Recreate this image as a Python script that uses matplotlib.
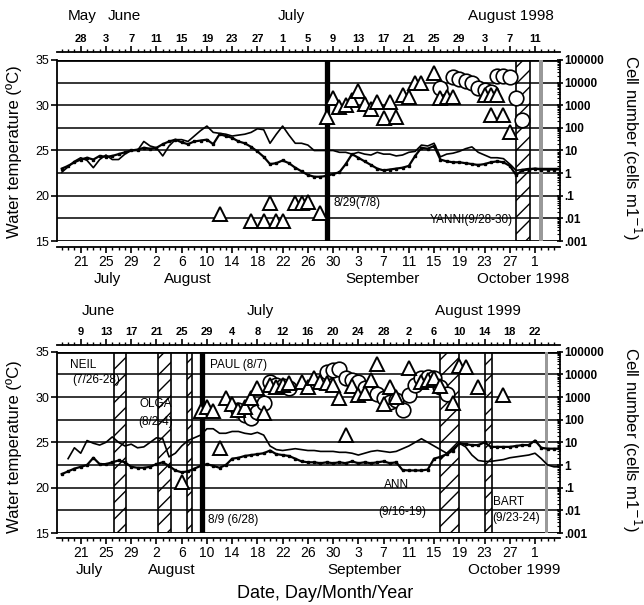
import numpy as np
import matplotlib
matplotlib.use('Agg')
import matplotlib.pyplot as plt
import matplotlib.dates as mdates
from matplotlib.ticker import FixedLocator, LogLocator, NullFormatter

plt.rcParams['font.family'] = ['Liberation Sans', 'DejaVu Sans']
plt.rcParams['hatch.linewidth'] = 1.0


def dn(year, s):
    return mdates.datestr2num(f'{year}-{s}')


def daily(year, start, n):
    return dn(year, start) + np.arange(n)


# ---------------- 1998 ----------------
t98_dot_start = '07-18'
t98_dot = [23.0, 23.3, 23.7, 24.0, 24.2, 24.0, 24.4, 24.3, 24.4, 24.6, 24.8, 25.0, 25.1, 25.3,
           25.2, 25.3, 25.7, 26.0, 26.2, 25.9, 25.7, 26.0, 26.1, 26.2, 25.7, 26.8, 26.6, 26.4,
           26.0, 25.8, 25.4, 24.9, 24.3, 23.5, 23.6, 23.9, 23.6, 23.1, 22.7, 22.3, 22.1, 22.1,
           22.2, 22.4, 22.6,
           23.5, 24.6, 24.2, 23.8, 23.4, 23.0, 22.8, 22.9, 23.0, 23.1, 23.3, 24.4, 25.3, 25.2,
           25.5, 24.0, 23.8, 23.7, 23.7, 23.6, 23.5, 23.4, 23.5, 23.7, 23.8, 23.7, 23.3, 22.3,
           22.8, 22.9,
           23.0, 22.9, 22.9, 22.9, 22.9]
t98_line_start = '07-18'
t98_line = [22.6, 23.2, 23.8, 24.2, 23.9, 23.1, 24.0, 24.5, 24.0, 24.0, 24.6, 25.0, 25.0, 26.0,
            25.5, 25.3, 24.4, 25.5, 26.2, 26.2, 26.0, 26.6, 27.2, 27.7, 27.0, 26.9, 26.8, 26.6,
            26.7, 26.8, 27.0, 27.4, 27.3, 25.8, 26.8, 27.7, 26.7, 25.8, 25.8, 25.6, 25.0, 25.0,
            25.0, 25.0, 24.8,
            24.8, 24.6, 24.8, 24.6, 24.5, 24.8, 24.6, 24.6, 24.4, 24.5, 24.8, 24.9, 25.6, 25.5,
            25.8, 24.3, 24.6, 24.7, 24.9, 25.2, 25.4, 24.8, 24.5, 24.2, 24.2, 24.1, 23.5, 22.8,
            22.9, 23.0,
            23.0, 23.0, 23.0, 23.0, 23.0]
tri98_dates = ['08-12', '08-17', '08-19', '08-20', '08-21', '08-22', '08-24', '08-25', '08-26',
               '08-28', '08-29', '08-30', '08-31', '09-01', '09-02', '09-03', '09-04', '09-05',
               '09-06', '09-07', '09-08', '09-09', '09-10', '09-11', '09-12', '09-13', '09-15',
               '09-16', '09-17', '09-18', '09-23', '09-24', '09-25', '09-24', '09-26', '09-27']
tri98_vals = [0.015, 0.008, 0.008, 0.05, 0.008, 0.008, 0.05, 0.05, 0.055,
              0.018, 300, 2100, 850, 1000, 1700, 4200, 1100, 680,
              1400, 260, 1400, 310, 2800, 2400, 9300, 9300, 26000,
              2000, 2400, 2400, 2800, 2800, 2800, 390, 390, 66]
cir98_dates = ['09-16', '09-18', '09-19', '09-20', '09-21', '09-22', '09-23', '09-24',
               '09-25', '09-26', '09-27', '09-28', '09-29']
cir98_vals = [5500, 17000, 14000, 12000, 9300, 5900, 4700, 3700,
              20000, 20000, 18000, 2000, 220]
thick98 = '08-29 01:00'
hatch98 = [('09-28', '09-30 05:00')]
gray98 = '10-01 23:00'

# ---------------- 1999 ----------------
t99_dot_start = '07-18'
t99_dot = [21.5, 21.8, 22.1, 22.3, 22.5, 23.3, 22.6, 22.6, 22.8, 23.0, 22.8, 22.3, 22.2, 22.2,
           22.3, 22.6, 22.8, 22.4, 21.9, 21.7, 21.8, 22.1, 22.4, 22.6, 22.4, 22.2, 22.5, 23.2,
           23.3, 23.5, 23.6, 23.7, 23.8, 24.1, 23.7, 23.6, 23.5, 23.2, 22.9, 22.8, 22.8, 22.7,
           22.8, 22.7, 22.8,
           22.7, 22.9, 22.7, 22.8, 22.7, 22.8, 22.9, 22.7, 22.8, 21.95, 21.9, 21.9, 21.9, 22.0,
           23.2, 23.4, 23.7, 24.1, 24.9, 24.8, 24.7, 24.7, 25.0, 24.5, 24.5, 24.5, 24.5, 24.6,
           24.7, 24.7,
           25.2, 24.4, 24.3, 24.3, 24.3]
t99_line_start = '07-19'
t99_line = [23.2, 24.4, 23.8, 25.2, 24.9, 24.7, 25.0, 25.6, 25.0, 24.6, 24.8, 24.4, 24.5,
            25.0, 25.5, 25.4, 23.4, 23.8, 24.6, 25.2, 25.5, 25.8, 26.5, 26.5, 26.0, 26.0, 26.2,
            26.2, 26.0, 25.9, 26.1, 25.8, 24.6, 24.2, 24.1, 24.2, 24.3, 24.2, 24.1, 24.1, 24.0,
            24.0, 24.0, 23.9,
            23.9, 23.8, 23.6, 23.8, 24.0, 24.1, 24.0, 23.9, 24.0, 24.3, 24.6, 25.0, 25.4, 25.0,
            24.6, 24.2, 23.8, 24.3, 24.9, 24.5, 23.6, 23.0, 22.9, 22.9, 23.0, 23.1, 23.3, 23.4,
            23.5, 23.6,
            23.8, 23.2, 22.5, 22.3, 22.3]
tri99_dates = ['08-06', '08-09', '08-10', '08-11', '08-12', '08-13', '08-14', '08-15', '08-16',
               '08-17', '08-18', '08-19', '08-20', '08-21', '08-22', '08-23', '08-25', '08-26',
               '08-27', '08-28', '08-29', '08-30', '08-31', '09-01', '09-02', '09-03', '09-04',
               '09-05', '09-06', '09-07', '09-08', '09-09', '09-11', '09-13', '09-14', '09-15',
               '09-16', '09-18', '09-19', '09-20', '09-22', '09-26']
tri99_vals = [0.18, 250, 370, 250, 5.5, 870, 500, 270, 370,
              870, 2600, 190, 3400, 2900, 3400, 4000, 4800, 2900,
              6600, 4800, 4000, 3400, 870, 21, 3000, 1200, 1500,
              5600, 30000, 500, 2900, 1000, 20000, 4500, 5600, 6600,
              3000, 550, 24000, 22000, 2900, 1200]
cir99_dates = ['08-15', '08-16', '08-17', '08-18', '08-19', '08-20', '08-21', '08-22', '08-23',
               '08-29', '08-30', '08-31', '09-01', '09-02', '09-03', '09-04', '09-06', '09-07',
               '09-08', '09-09', '09-10', '09-11', '09-12', '09-13', '09-14', '09-15', '09-16',
               '09-17']
cir99_vals = [270, 160, 115, 220, 520, 4800, 3400, 3000, 2400,
              13000, 15000, 18000, 6600, 5600, 4800, 2400, 1400, 870,
              620, 730, 270, 1200, 3400, 6600, 7900, 6600, 2900,
              1400]
thick99 = '08-09 07:00'
hatch99 = [('07-26 06:00', '07-28 04:00'), ('08-02 07:00', '08-04 06:00'),
           ('08-06 19:00', '08-07 14:00'), ('09-16', '09-19'), ('09-23', '09-24 04:00')]
gray99 = '10-02 20:00'

bottom_labels = ['21', '25', '29', '2', '6', '10', '14', '18', '22', '26', '30',
                 '3', '7', '11', '15', '19', '23', '27', '1']
top98_labels = ['28', '3', '7', '11', '15', '19', '23', '27', '1', '5', '9',
                '13', '17', '21', '25', '29', '3', '7', '11']
top99_labels = ['9', '13', '17', '21', '25', '29', '4', '8', '12', '16', '20',
                '24', '28', '2', '6', '10', '14', '18', '22']
cell_ticks = [1e-3, 1e-2, 1e-1, 1, 10, 100, 1000, 10000, 100000]
cell_labels = ['.001', '.01', '.1', '1', '10', '100', '1000', '10000', '100000']

W, H = 644, 605
fig = plt.figure(figsize=(W / 100, H / 100), dpi=100)


def fx(px):
    return px / W


def fy(py):
    return 1 - py / H


def panel(top_px, bot_px, year, dot_start, dot_v, line_start, line_v,
          tri_d, tri_v, cir_d, cir_v, thick, hatches, gray, top_labels,
          top_off, bot_off):
    ax = fig.add_axes([fx(57), fy(bot_px), fx(560) - fx(57), fy(top_px) - fy(bot_px)])
    x0 = dn(year, '07-21')
    ax.set_xlim(x0 - 3.76, x0 + 75.96)
    ax.set_ylim(15, 35)

    # grid lines line up with the decades of the cell axis
    for t in np.arange(15, 35.1, 2.5):
        ax.axhline(t, color='k', lw=2.0 if t in (15, 35) else 1.1, zorder=1)

    for a, b in hatches:
        ax.axvspan(dn(year, a), dn(year, b), facecolor='none', edgecolor='k',
                   hatch='//', lw=1.2, zorder=2)
    g = dn(year, gray)
    ax.axvspan(g - 0.3, g + 0.3, color='0.6', lw=0, zorder=2)
    ax.axvline(dn(year, thick), color='k', lw=3.8, zorder=3)

    ax.plot(daily(year, dot_start, len(dot_v)), dot_v, color='k', lw=1.6,
            marker='s', ms=2, zorder=4)
    ax.plot(daily(year, line_start, len(line_v)), line_v, color='k', lw=1.2, zorder=4)

    major = x0 + 4 * np.arange(19)
    minor = dn(year, '07-18') + np.arange(79)
    ax.set_xticks(major)
    ax.set_xticklabels(bottom_labels, fontsize=8, fontweight='bold')
    ax.xaxis.set_minor_locator(FixedLocator(minor))
    ax.tick_params(axis='x', which='major', length=4.5, width=1.2, pad=1.5)
    ax.tick_params(axis='x', which='minor', length=2.2, width=1.0)
    ax.spines['top'].set_visible(False)
    ax.spines['bottom'].set_position(('outward', bot_off))
    ax.spines['bottom'].set_linewidth(1.3)
    ax.spines['left'].set_linewidth(1.3)
    ax.spines['right'].set_visible(False)

    # lunar calendar on top
    sec = ax.secondary_xaxis(1 + top_off / (bot_px - top_px))
    sec.set_xticks(major)
    sec.set_xticklabels(top_labels, fontsize=8, fontweight='bold')
    sec.xaxis.set_minor_locator(FixedLocator(minor))
    sec.tick_params(axis='x', which='major', length=4.5, width=1.2, pad=1.5)
    sec.tick_params(axis='x', which='minor', length=2.2, width=1.0)
    sec.spines['top'].set_linewidth(1.3)

    ax.set_yticks([15, 20, 25, 30, 35])
    ax.set_yticklabels(['15', '20', '25', '30', '35'], fontsize=9)
    ax.tick_params(axis='y', length=4, width=1.2, pad=1.5)

    axr = ax.twinx()
    axr.set_yscale('log')
    axr.set_ylim(1e-3, 1e5)
    axr.set_yticks(cell_ticks)
    axr.set_yticklabels(cell_labels, fontsize=8.5, fontweight='bold')
    axr.yaxis.set_minor_locator(LogLocator(base=10, subs=np.arange(2, 10), numticks=20))
    axr.yaxis.set_minor_formatter(NullFormatter())
    axr.tick_params(axis='y', which='major', length=4, width=1.2, direction='inout', pad=1)
    axr.tick_params(axis='y', which='minor', length=2.5, width=0.8, direction='in')
    for s in ('top', 'bottom', 'left'):
        axr.spines[s].set_visible(False)
    axr.spines['right'].set_linewidth(1.3)

    axr.plot([dn(year, d) for d in cir_d], cir_v, 'o', ms=10.5, mfc='white', mec='k',
             mew=1.2, ls='none', zorder=5)
    axr.plot([dn(year, d) for d in tri_d], tri_v, '^', ms=9.5, mfc='white', mec='k',
             mew=1.4, ls='none', zorder=6)
    return ax


ax1 = panel(60, 241, 1998, t98_dot_start, t98_dot, t98_line_start, t98_line,
            tri98_dates, tri98_vals, cir98_dates, cir98_vals, thick98, hatch98, gray98,
            top98_labels, 7.5, 4.3)
ax2 = panel(351.7, 533, 1999, t99_dot_start, t99_dot, t99_line_start, t99_line,
            tri99_dates, tri99_vals, cir99_dates, cir99_vals, thick99, hatch99, gray99,
            top99_labels, 6.7, 3.6)

# storm annotations
ann = dict(fontsize=8.5, va='center', zorder=7)
ax1.text(dn(1998, '08-30'), 19.2, '8/29(7/8)', ha='left', **ann)
ax1.text(dn(1998, '09-27 12:00'), 17.3, 'YANNI(9/28-30)', ha='right', **ann)
ax2.text(dn(1999, '07-21 09:00'), 33.5, 'NEIL', ha='center', **ann)
ax2.text(dn(1999, '07-23 12:00'), 31.9, '(7/26-28)', ha='center', **ann)
ax2.text(dn(1999, '08-01 20:00'), 29.2, 'OLGA', ha='center', **ann)
ax2.text(dn(1999, '08-01 20:00'), 27.3, '(8/2-4)', ha='center', **ann)
ax2.text(dn(1999, '08-10 12:00'), 33.5, 'PAUL (8/7)', ha='left', **ann)
ax2.text(dn(1999, '08-10 05:00'), 16.45, '8/9 (6/28)', ha='left', **ann)
ax2.text(dn(1999, '09-09'), 20.3, 'ANN', ha='center', **ann)
ax2.text(dn(1999, '09-10'), 17.3, '(9/16-19)', ha='center', **ann)
ax2.text(dn(1999, '09-24 07:00'), 18.4, 'BART', ha='left', **ann)
ax2.text(dn(1999, '09-24 05:00'), 16.65, '(9/23-24)', ha='left', **ann)

# month names
months = [('May', 82, 16), ('June', 124, 16), ('July', 291, 16), ('August 1998', 511, 16),
          ('July', 107, 279), ('August', 188, 279), ('September', 383, 279),
          ('October 1998', 523, 279),
          ('June', 98, 311), ('July', 260, 311), ('August 1999', 478, 311),
          ('July', 89, 570), ('August', 172, 570), ('September', 365, 570),
          ('October 1999', 514, 570)]
for txt, px, py in months:
    fig.text(fx(px), fy(py), txt, ha='center', va='center', fontsize=11)

for yc in (152, 447):
    fig.text(fx(14), fy(yc), 'Water temperature (\u00baC)', rotation=90,
             ha='center', va='center', fontsize=12)
for yc in (148, 440):
    fig.text(fx(632), fy(yc), 'Cell number (cells m1$^{-1}$)', rotation=270,
             ha='center', va='center', fontsize=12)
fig.text(fx(325), fy(593), 'Date, Day/Month/Year', ha='center', va='center', fontsize=13)

fig.savefig('out.png', dpi=100)
